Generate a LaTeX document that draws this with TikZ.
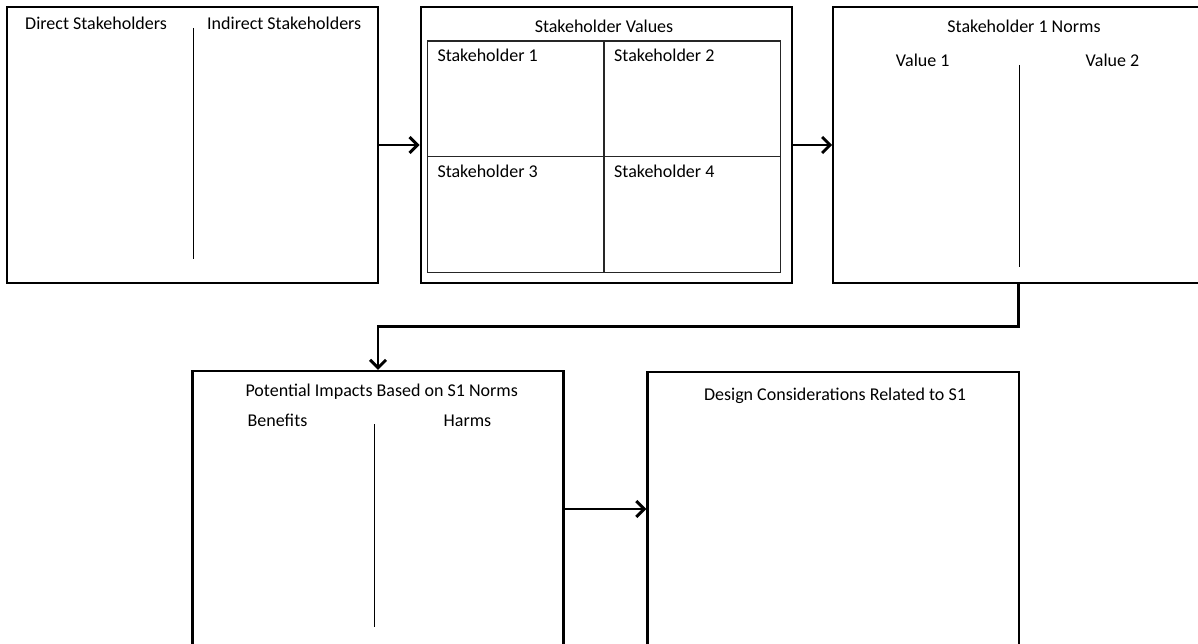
\documentclass[tikz,border=0pt]{standalone}
\usepackage{fontspec}
\setmainfont{Carlito}
\usetikzlibrary{arrows.meta}
\begin{document}
\begin{tikzpicture}[x=1pt,y=-1pt,
  box/.style={draw=black, line width=2.3pt, minimum width=371pt, minimum height=276pt, inner sep=0pt},
  lbl/.style={inner sep=0pt, text=black, font=\fontsize{18}{22}\selectfont},
  divider/.style={draw=black, line width=1.1pt},
  gridline/.style={draw=black!85, line width=1.5pt},
  conn/.style={draw=black, line width=2.9pt, -{Straight Barb[length=8pt,width=16pt]}}]
\useasboundingbox (0,0) rectangle (1198,644);
% boxes
\node[box] (A) at (192.5,145) {};
\node[box] (B) at (606.2,145) {};
\node[box] (C) at (1018.8,145) {};
\node[box] (D) at (378,509) {};
\node[box, minimum width=371.5pt] (E) at (833.2,510) {};
% box A
\node[lbl, anchor=base west] (a1) at (25,30) {Direct Stakeholders};
\node[lbl, anchor=base west] (a2) at (207,30) {Indirect Stakeholders};
\draw[divider] (193.5,28) -- (193.5,259);
% box B
\node[lbl, anchor=base] (b0) at (604,32.3) {Stakeholder Values};
\draw[gridline] (427.3,41) rectangle (780.7,272.7);
\draw[gridline] (604,41) -- (604,272.7);
\draw[gridline] (427.3,156.7) -- (780.7,156.7);
\node[lbl, anchor=base west] (b1) at (437.3,61.7) {Stakeholder 1};
\node[lbl, anchor=base west] (b2) at (614,61.7) {Stakeholder 2};
\node[lbl, anchor=base west] (b3) at (437.3,177.7) {Stakeholder 3};
\node[lbl, anchor=base west] (b4) at (614,177.7) {Stakeholder 4};
% box C
\node[lbl, anchor=base] (c0) at (1024,32.3) {Stakeholder 1 Norms};
\node[lbl, anchor=base] (c1) at (922.7,66.7) {Value 1};
\node[lbl, anchor=base] (c2) at (1112.5,66.7) {Value 2};
\draw[divider] (1019.3,65) -- (1019.3,267.3);
% box D
\node[lbl, anchor=base] (d0) at (381.7,396.7) {Potential Impacts Based on S1 Norms};
\node[lbl, anchor=base] (d1) at (277.5,426.7) {Benefits};
\node[lbl, anchor=base] (d2) at (467.5,426.7) {Harms};
\draw[divider] (374.7,424.3) -- (374.7,627);
% box E
\node[lbl, anchor=base] (e0) at (835,400.7) {Design Considerations Related to S1};
% connectors
\draw[conn] (A.east) -- (B.west |- A.east);
\draw[conn] (B.east) -- (C.west |- B.east);
\draw[conn] (C.south) -- ++(0,42) -| (D.north);
\draw[conn] (D.east) -- (E.west |- D.east);
\end{tikzpicture}
\end{document}
